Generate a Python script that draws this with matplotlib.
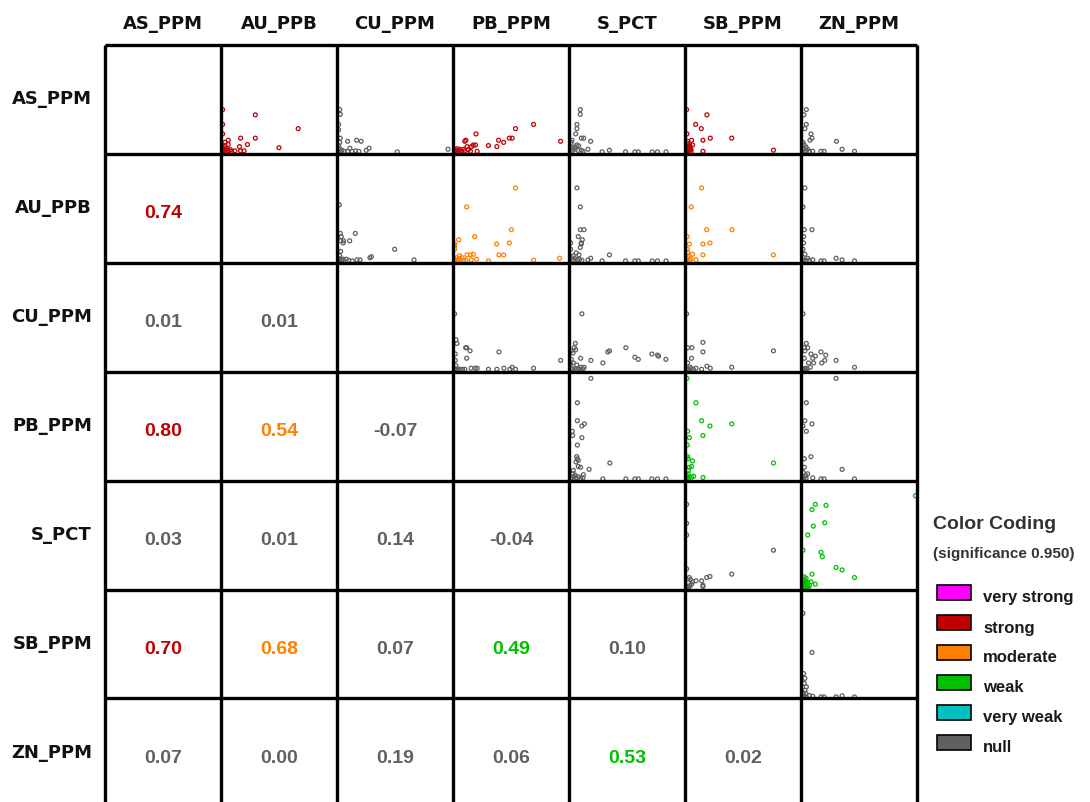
"""Correlation matrix of assay variables: scatter plots above the diagonal,
Pearson r values below, coloured by strength class."""

import matplotlib
matplotlib.use("Agg")
import matplotlib.pyplot as plt
from matplotlib.patches import Rectangle

VARS = ["AS_PPM", "AU_PPB", "CU_PPM", "PB_PPM", "S_PCT", "SB_PPM", "ZN_PPM"]

# lower triangle: r values per row (against the columns before it)
R_AU = [0.74]
R_CU = [0.01, 0.01]
R_PB = [0.80, 0.54, -0.07]
R_S = [0.03, 0.01, 0.14, -0.04]
R_SB = [0.70, 0.68, 0.07, 0.49, 0.10]
R_ZN = [0.07, 0.00, 0.19, 0.06, 0.53, 0.02]

CLS_AU = ["strong"]
CLS_CU = ["null", "null"]
CLS_PB = ["strong", "moderate", "null"]
CLS_S = ["null", "null", "null", "null"]
CLS_SB = ["strong", "moderate", "null", "weak", "null"]
CLS_ZN = ["null", "null", "null", "null", "weak", "null"]

LEGEND_CLASSES = ["very strong", "strong", "moderate", "weak", "very weak", "null"]
CLASS_COLORS = {
    "very strong": "#ff00ff",
    "strong": "#c00000",
    "moderate": "#ff8000",
    "weak": "#00c000",
    "very weak": "#00c0c0",
    "null": "#606060",
}

# scatter samples, scaled to 0..1 within each panel (x = column var, y = row var)
PTS_AS_AU = [(0, 0.40), (0, 0.26), (0, 0.17), (0.29, 0.35), (0.67, 0.22), (0.05, 0.11),
             (0.16, 0.13), (0.29, 0.13), (0.22, 0.07), (0.15, 0.05), (0.50, 0.04),
             (0.05, 0.07), (0.02, 0.06), (0.04, 0.03), (0.07, 0.02), (0.11, 0.01),
             (0.16, 0.01), (0.19, 0.01), (0.01, 0.04), (0.02, 0.09), (0.01, 0.01),
             (0.03, 0.005), (0.05, 0.01), (0.0, 0.02), (0.08, 0.005), (0.03, 0.02)]
PTS_AS_CU = [(0.01, 0.40), (0.015, 0.355), (0.0, 0.26), (0.0, 0.21), (0.015, 0.13),
             (0.01, 0.09), (0.08, 0.10), (0.10, 0.035), (0.16, 0.11), (0.20, 0.10),
             (0.27, 0.035), (0.245, 0.015), (0.52, 0.0), (0.97, 0.025), (0.02, 0.01),
             (0.05, 0.005), (0.08, 0.005), (0.12, 0.005), (0.15, 0.01), (0.18, 0.005),
             (0.01, 0.03), (0.0, 0.06), (0.03, 0.015), (0.0, 0.0)]
PTS_AS_PB = [(0.19, 0.17), (0.10, 0.11), (0.09, 0.10), (0.30, 0.06), (0.39, 0.11),
             (0.435, 0.09), (0.485, 0.13), (0.51, 0.13), (0.54, 0.22), (0.70, 0.26),
             (0.94, 0.10), (0.375, 0.05), (0.165, 0.065), (0.185, 0.065), (0.15, 0.05),
             (0.11, 0.05), (0.08, 0.025), (0.045, 0.025), (0.015, 0.015), (0.03, 0.005),
             (0.14, 0.005), (0.20, 0.005), (0.06, 0.005), (0.0, 0.005), (0.09, 0.01),
             (0.02, 0.03), (0.05, 0.01), (0.12, 0.02)]
PTS_AS_S = [(0.086, 0.40), (0.086, 0.355), (0.056, 0.26), (0.056, 0.22), (0.045, 0.17),
            (0.095, 0.13), (0.116, 0.13), (0.178, 0.10), (0.012, 0.11), (0.006, 0.09),
            (0.056, 0.066), (0.071, 0.057), (0.036, 0.047), (0.154, 0.025), (0.344, 0.016),
            (0.279, 0.0), (0.487, 0.0), (0.57, 0.0), (0.60, 0.0), (0.724, 0.0), (0.77, 0.0),
            (0.846, 0.0), (0.02, 0.015), (0.065, 0.015), (0.095, 0.015), (0.005, 0.006),
            (0.04, 0.03), (0.11, 0.005), (0.02, 0.04)]
PTS_AS_SB = [(0, 0.40), (0.18, 0.35), (0.08, 0.26), (0.13, 0.22), (0.21, 0.13), (0.40, 0.13),
             (0.044, 0.11), (0.145, 0.11), (0.053, 0.066), (0.03, 0.057), (0.018, 0.047),
             (0.038, 0.025), (0.145, 0.006), (0.77, 0.016), (0.01, 0.10), (0.003, 0.17),
             (0.005, 0.02), (0.02, 0.01), (0.04, 0.005), (0.01, 0.08), (0.025, 0.04),
             (0.01, 0.05), (0.03, 0.02), (0.0, 0.0)]
PTS_AS_ZN = [(0.033, 0.40), (0.012, 0.35), (0.033, 0.26), (0.02, 0.22), (0.074, 0.17),
             (0.083, 0.13), (0.065, 0.11), (0.003, 0.09), (0.015, 0.066), (0.03, 0.047),
             (0.045, 0.025), (0.30, 0.10), (0.35, 0.025), (0.46, 0.006), (0.163, 0.006),
             (0.19, 0.006), (0.09, 0.006), (0.06, 0.006), (0.015, 0.006), (0.005, 0.03),
             (0.03, 0.01), (0.0, 0.0)]
PTS_AU_CU = [(0.006, 0.53), (0.015, 0.26), (0.024, 0.23), (0.018, 0.19), (0.044, 0.19),
             (0.041, 0.17), (0.098, 0.19), (0.148, 0.26), (0.018, 0.09), (0.041, 0.016),
             (0.068, 0.016), (0.121, 0.0), (0.163, 0.01), (0.19, 0.01), (0.278, 0.03),
             (0.29, 0.04), (0.497, 0.11), (0.669, 0.01), (0.009, 0.05), (0.024, 0.006),
             (0.0, 0.0), (0.01, 0.02), (0.03, 0.01), (0.09, 0.005)]
PTS_AU_PB = [(0.54, 0.69), (0.107, 0.51), (0.503, 0.295), (0.178, 0.23), (0.036, 0.20),
             (0.373, 0.16), (0.485, 0.17), (0.0, 0.16), (0.0, 0.14), (0.0, 0.11),
             (0.11, 0.057), (0.14, 0.057), (0.166, 0.063), (0.393, 0.057), (0.435, 0.057),
             (0.044, 0.048), (0.065, 0.032), (0.148, 0.01), (0.195, 0.016), (0.30, 0.0),
             (0.70, 0.006), (0.93, 0.025), (0.01, 0.01), (0.03, 0.005), (0.05, 0.01),
             (0.08, 0.005), (0.02, 0.03), (0.10, 0.005), (0.0, 0.0), (0.04, 0.02)]
PTS_AU_S = [(0.056, 0.69), (0.086, 0.51), (0.086, 0.295), (0.119, 0.295), (0.068, 0.23),
            (0.104, 0.20), (0.095, 0.17), (0.095, 0.16), (0.086, 0.127), (0.0, 0.17),
            (0.0, 0.11), (0.05, 0.076), (0.074, 0.057), (0.021, 0.048), (0.344, 0.057),
            (0.178, 0.025), (0.154, 0.01), (0.279, 0.0), (0.487, 0.0), (0.57, 0.0),
            (0.60, 0.0), (0.724, 0.0), (0.77, 0.0), (0.846, 0.0), (0.02, 0.01), (0.04, 0.02),
            (0.06, 0.01), (0.08, 0.015), (0.10, 0.005), (0.01, 0.03)]
PTS_AU_SB = [(0.133, 0.69), (0.041, 0.51), (0.178, 0.295), (0.402, 0.295), (0.207, 0.17),
             (0.145, 0.16), (0.053, 0.063), (0.145, 0.057), (0.769, 0.057), (0.024, 0.16),
             (0.006, 0.11), (0.006, 0.23), (0.038, 0.016), (0.083, 0.01), (0.018, 0.048),
             (0.005, 0.01), (0.015, 0.03), (0.01, 0.08), (0.025, 0.005), (0.0, 0.0)]
PTS_AU_ZN = [(0.02, 0.69), (0.003, 0.51), (0.015, 0.295), (0.083, 0.295), (0.009, 0.23),
             (0.009, 0.17), (0.003, 0.11), (0.02, 0.063), (0.297, 0.025), (0.35, 0.01),
             (0.46, 0.0), (0.163, 0.0), (0.19, 0.0), (0.09, 0.01), (0.045, 0.025),
             (0.01, 0.01), (0.03, 0.005), (0.06, 0.005), (0.0, 0.0)]
PTS_CU_PB = [(0.0, 0.53), (0.012, 0.285), (0.021, 0.25), (0.098, 0.21), (0.107, 0.21),
             (0.137, 0.18), (0.107, 0.11), (0.393, 0.17), (0.006, 0.15), (0.006, 0.09),
             (0.012, 0.04), (0.146, 0.016), (0.182, 0.016), (0.20, 0.016), (0.30, 0.006),
             (0.375, 0.006), (0.4375, 0.016), (0.49, 0.006), (0.51, 0.025), (0.54, 0.006),
             (0.70, 0.016), (0.94, 0.09), (0.01, 0.01), (0.03, 0.005), (0.05, 0.006),
             (0.07, 0.005), (0.09, 0.006), (0.0, 0.0)]
PTS_CU_S = [(0.10, 0.53), (0.042, 0.25), (0.033, 0.21), (0.045, 0.19), (0.021, 0.16),
            (0.006, 0.18), (0.089, 0.11), (0.18, 0.09), (0.286, 0.066), (0.33, 0.17),
            (0.345, 0.18), (0.49, 0.21), (0.57, 0.12), (0.60, 0.10), (0.72, 0.15),
            (0.77, 0.14), (0.78, 0.13), (0.845, 0.10), (0.024, 0.066), (0.054, 0.047),
            (0.089, 0.025), (0.12, 0.025), (0.01, 0.01), (0.03, 0.01), (0.05, 0.005),
            (0.07, 0.01), (0.09, 0.005), (0.11, 0.01), (0.0, 0.06), (0.005, 0.10)]
PTS_CU_SB = [(0.0, 0.53), (0.145, 0.26), (0.009, 0.21), (0.047, 0.21), (0.145, 0.17),
             (0.044, 0.11), (0.77, 0.18), (0.18, 0.035), (0.21, 0.016), (0.40, 0.025),
             (0.133, 0.006), (0.083, 0.016), (0.033, 0.025), (0.009, 0.066), (0.005, 0.01),
             (0.02, 0.005), (0.04, 0.01), (0.06, 0.005), (0.0, 0.0)]
PTS_CU_ZN = [(0.003, 0.53), (0.033, 0.25), (0.015, 0.21), (0.045, 0.21), (0.02, 0.18),
             (0.074, 0.15), (0.113, 0.13), (0.163, 0.17), (0.205, 0.14), (0.09, 0.11),
             (0.015, 0.11), (0.196, 0.09), (0.17, 0.066), (0.297, 0.09), (0.053, 0.066),
             (0.098, 0.066), (0.46, 0.025), (0.068, 0.025), (0.03, 0.016), (0.01, 0.01),
             (0.02, 0.005), (0.04, 0.01), (0.0, 0.0)]
PTS_PB_S = [(0.18, 0.95), (0.06, 0.72), (0.06, 0.55), (0.10, 0.50), (0.122, 0.52),
            (0.015, 0.45), (0.018, 0.41), (0.10, 0.39), (0.06, 0.32), (0.054, 0.21),
            (0.06, 0.19), (0.068, 0.175), (0.048, 0.16), (0.068, 0.117), (0.089, 0.11),
            (0.164, 0.09), (0.348, 0.15), (0.024, 0.08), (0.113, 0.04), (0.286, 0.0),
            (0.49, 0.0), (0.57, 0.0), (0.60, 0.0), (0.72, 0.0), (0.77, 0.0), (0.845, 0.0),
            (0.01, 0.01), (0.03, 0.02), (0.05, 0.01), (0.07, 0.02), (0.09, 0.005),
            (0.11, 0.01), (0.02, 0.05), (0.04, 0.035), (0.0, 0.0)]
PTS_PB_SB = [(0.003, 0.95), (0.083, 0.72), (0.133, 0.55), (0.207, 0.50), (0.40, 0.52),
             (0.145, 0.41), (0.024, 0.39), (0.009, 0.45), (0.006, 0.32), (0.009, 0.21),
             (0.053, 0.17), (0.015, 0.19), (0.044, 0.117), (0.024, 0.11), (0.015, 0.08),
             (0.062, 0.025), (0.044, 0.016), (0.145, 0.013), (0.77, 0.15), (0.009, 0.016),
             (0.015, 0.048), (0.0, 0.0), (0.02, 0.005), (0.005, 0.03)]
PTS_PB_ZN = [(0.297, 0.95), (0.033, 0.72), (0.02, 0.55), (0.083, 0.52), (0.033, 0.45),
             (0.003, 0.50), (0.074, 0.21), (0.015, 0.19), (0.35, 0.09), (0.46, 0.0),
             (0.045, 0.048), (0.015, 0.11), (0.03, 0.03), (0.163, 0.0), (0.19, 0.0),
             (0.09, 0.01), (0.01, 0.01), (0.0, 0.0), (0.03, 0.005), (0.005, 0.06)]
PTS_S_SB = [(0.0, 0.79), (0.0, 0.61), (0.0, 0.50), (0.77, 0.356), (0.40, 0.13),
            (0.207, 0.108), (0.178, 0.098), (0.133, 0.067), (0.083, 0.067), (0.053, 0.057),
            (0.024, 0.098), (0.033, 0.08), (0.145, 0.025), (0.145, 0.013), (0.044, 0.035),
            (0.009, 0.016), (0.015, 0.048), (0.0, 0.18), (0.0, 0.0), (0.02, 0.005),
            (0.03, 0.02)]
PTS_S_ZN = [(1.0, 0.87), (0.113, 0.79), (0.208, 0.78), (0.083, 0.74), (0.196, 0.616),
            (0.095, 0.584), (0.045, 0.50), (0.003, 0.356), (0.163, 0.336), (0.175, 0.295),
            (0.297, 0.194), (0.35, 0.17), (0.46, 0.098), (0.083, 0.13), (0.074, 0.057),
            (0.113, 0.035), (0.015, 0.105), (0.03, 0.09), (0.009, 0.073), (0.02, 0.057),
            (0.045, 0.048), (0.015, 0.025), (0.033, 0.016), (0.06, 0.025), (0.003, 0.01),
            (0.04, 0.01), (0.0, 0.04), (0.025, 0.035), (0.05, 0.005), (0.01, 0.0),
            (0.03, 0.065), (0.005, 0.08)]
PTS_SB_ZN = [(0.003, 0.79), (0.083, 0.42), (0.009, 0.22), (0.02, 0.175), (0.015, 0.127),
             (0.033, 0.095), (0.02, 0.063), (0.03, 0.032), (0.19, 0.0), (0.163, 0.0),
             (0.35, 0.01), (0.46, 0.0), (0.297, 0.0), (0.09, 0.006), (0.06, 0.013),
             (0.01, 0.01), (0.0, 0.0), (0.03, 0.005), (0.005, 0.04)]

R_ROWS = [None, R_AU, R_CU, R_PB, R_S, R_SB, R_ZN]
CLS_ROWS = [None, CLS_AU, CLS_CU, CLS_PB, CLS_S, CLS_SB, CLS_ZN]
SCATTERS = {
    (0, 1): PTS_AS_AU, (0, 2): PTS_AS_CU, (0, 3): PTS_AS_PB, (0, 4): PTS_AS_S,
    (0, 5): PTS_AS_SB, (0, 6): PTS_AS_ZN,
    (1, 2): PTS_AU_CU, (1, 3): PTS_AU_PB, (1, 4): PTS_AU_S, (1, 5): PTS_AU_SB,
    (1, 6): PTS_AU_ZN,
    (2, 3): PTS_CU_PB, (2, 4): PTS_CU_S, (2, 5): PTS_CU_SB, (2, 6): PTS_CU_ZN,
    (3, 4): PTS_PB_S, (3, 5): PTS_PB_SB, (3, 6): PTS_PB_ZN,
    (4, 5): PTS_S_SB, (4, 6): PTS_S_ZN,
    (5, 6): PTS_SB_ZN,
}

W, H = 1090, 803
X0, Y0 = 105, 45.5          # grid top-left, px
CW, CH = 116, 109           # cell size, px
PADX, PADY = 1.6 / CW, 1.6 / CH
N = len(VARS)

fig = plt.figure(figsize=(W / 100, H / 100), dpi=100)
ax = fig.add_axes([X0 / W, (H - Y0 - N * CH) / H, N * CW / W, N * CH / H])
ax.set_xlim(0, N)
ax.set_ylim(N, 0)
ax.axis("off")

NUM_FONT = ["Liberation Sans", "DejaVu Sans"]

for i in range(N):
    for j in range(N):
        if i < j:
            pts = SCATTERS[(i, j)]
            color = CLASS_COLORS[CLS_ROWS[j][i]]
            xs = [j + PADX + fx * (1 - 2 * PADX) for fx, fy in pts]
            ys = [i + 1 - PADY - fy * (1 - 2 * PADY) for fx, fy in pts]
            ax.scatter(xs, ys, s=8, facecolors="none", edgecolors=color,
                       linewidths=0.9, zorder=2, clip_on=False)
        elif i > j:
            r = R_ROWS[i][j]
            color = CLASS_COLORS[CLS_ROWS[i][j]]
            ax.text(j + 0.5, i + 64 / CH, f"{r:.2f}", ha="center", va="baseline",
                    fontsize=14, fontweight="bold", color=color, family=NUM_FONT)

# grid lines on top of the scatter marks
ax.vlines(range(N + 1), 0, N, colors="black", linewidth=2.4, zorder=5, clip_on=False)
ax.hlines(range(N + 1), 0, N, colors="black", linewidth=2.4, zorder=5, clip_on=False)

# variable names along the top and the left side
for k, name in enumerate(VARS):
    fig.text((X0 + CW * (k + 0.5)) / W, 1 - 29.3 / H, name, ha="center", va="baseline",
             fontsize=13, fontweight="bold", color="#111111", family="DejaVu Sans")
    fig.text(92 / W, 1 - (Y0 + CH * k + 58.5) / H, name, ha="right", va="baseline",
             fontsize=13, fontweight="bold", color="#111111", family="DejaVu Sans")

# colour-coding key
fig.text(933 / W, 1 - 529 / H, "Color Coding", ha="left", va="baseline",
         fontsize=14, fontweight="bold", color="#333333", family=NUM_FONT)
fig.text(933 / W, 1 - 558 / H, "(significance 0.950)", ha="left", va="baseline",
         fontsize=11, fontweight="bold", color="#333333", family=NUM_FONT)
for k, cls in enumerate(LEGEND_CLASSES):
    top = 586 + 30 * k
    fig.patches.append(Rectangle((937 / W, 1 - (top + 15) / H), 34 / W, 15 / H,
                                 transform=fig.transFigure, facecolor=CLASS_COLORS[cls],
                                 edgecolor="black", linewidth=1.2))
    fig.text(983 / W, 1 - (top + 16.5) / H, cls, ha="left", va="baseline",
             fontsize=12, fontweight="bold", color="#1a1a1a", family=NUM_FONT)

fig.savefig("out.png", dpi=100)
